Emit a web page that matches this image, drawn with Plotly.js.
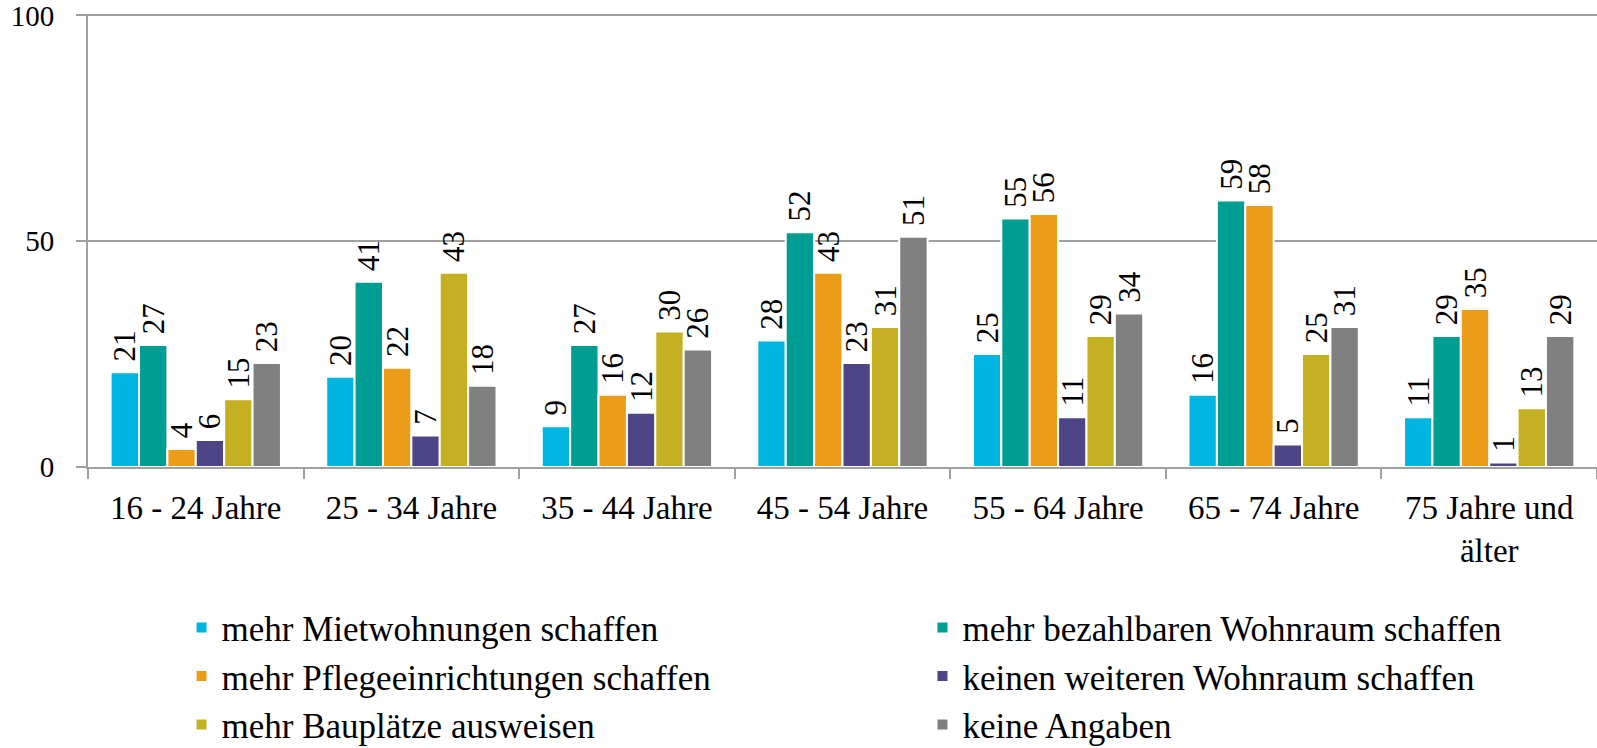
<!DOCTYPE html>
<html>
<head>
<meta charset="utf-8">
<script src="https://cdn.plot.ly/plotly-3.0.1.min.js"></script>
<style>html,body{margin:0;padding:0;background:#fff;}#chart{width:1597px;height:748px;}</style>
</head>
<body>
<div id="chart"></div>
<script>
const categories = ["16 - 24 Jahre", "25 - 34 Jahre", "35 - 44 Jahre", "45 - 54 Jahre", "55 - 64 Jahre", "65 - 74 Jahre", "75 Jahre und<br>älter"];
const seriesNames = ["mehr Mietwohnungen schaffen", "mehr bezahlbaren Wohnraum schaffen", "mehr Pflegeeinrichtungen schaffen", "keinen weiteren Wohnraum schaffen", "mehr Bauplätze ausweisen", "keine Angaben"];
const mietwohnungen = [21, 20, 9, 28, 25, 16, 11];
const bezahlbar = [27, 41, 27, 52, 55, 59, 29];
const pflege = [4, 22, 16, 43, 56, 58, 35];
const keinen = [6, 7, 12, 23, 11, 5, 1];
const bauplaetze = [15, 43, 30, 31, 29, 25, 13];
const keineAngaben = [23, 18, 26, 51, 34, 31, 29];
const yTicks = [0, 50, 100];

const seriesValues = [mietwohnungen, bezahlbar, pflege, keinen, bauplaetze, keineAngaben];
const colors = ["#00b5e2", "#009d93", "#eb9c18", "#4e4587", "#c5af23", "#808080"];
const legendIds = ["legend", "legend2", "legend", "legend2", "legend", "legend2"];
const FONT = "Liberation Serif, Times New Roman, serif";

const traces = seriesNames.map((name, i) => ({
  type: "bar",
  name: name,
  x: categories,
  y: seriesValues[i],
  text: seriesValues[i].map(v => "\u00A0" + v),
  textposition: "outside",
  textangle: -90,
  constraintext: "none",
  cliponaxis: false,
  textfont: {family: FONT, size: 31, color: "#000"},
  marker: {color: colors[i], line: {color: "#ffffff", width: 2}},
  legend: legendIds[i],
  legendgroup: "g" + i,
  hoverinfo: "skip"
}));

const legendCommon = {
  orientation: "v",
  xanchor: "left",
  yanchor: "top",
  font: {family: FONT, size: 35, color: "#000"},
  tracegroupgap: 0,
  maxheight: 1,
  bgcolor: "rgba(0,0,0,0)",
  itemclick: false
};

const layout = {
  width: 1597,
  height: 748,
  margin: {l: 88, r: 0, t: 14, b: 281, autoexpand: false},
  paper_bgcolor: "#ffffff",
  plot_bgcolor: "#ffffff",
  barmode: "group",
  bargap: 0.21,
  bargroupgap: 0,
  font: {family: FONT, color: "#000"},
  xaxis: {
    type: "category",
    tickson: "boundaries",
    ticks: "outside",
    ticklen: 10,
    tickwidth: 2,
    tickcolor: "#a0a0a0",
    showline: true,
    linecolor: "#a0a0a0",
    linewidth: 2,
    showgrid: false,
    ticklabelstandoff: 10,
    ticklabeloverflow: "allow",
    tickfont: {family: FONT, size: 33, color: "#000"},
    automargin: false,
    fixedrange: true
  },
  yaxis: {
    range: [0, 100.3],
    tickvals: yTicks,
    ticktext: yTicks.map(String),
    ticks: "outside",
    ticklen: 10,
    tickwidth: 2,
    tickcolor: "#a0a0a0",
    showline: true,
    linecolor: "#a0a0a0",
    linewidth: 2,
    showgrid: true,
    gridcolor: "#a0a0a0",
    gridwidth: 2,
    zeroline: false,
    ticklabelstandoff: 16,
    ticklabeloverflow: "allow",
    tickfont: {family: FONT, size: 29, color: "#000"},
    automargin: false,
    fixedrange: true
  },
  legend: Object.assign({}, legendCommon, {x: 0.062, y: -0.2896}),
  legend2: Object.assign({}, legendCommon, {x: 0.553, y: -0.2896}),
  showlegend: true
};

Plotly.newPlot("chart", traces, layout, {displayModeBar: false, staticPlot: true});
</script>
</body>
</html>
